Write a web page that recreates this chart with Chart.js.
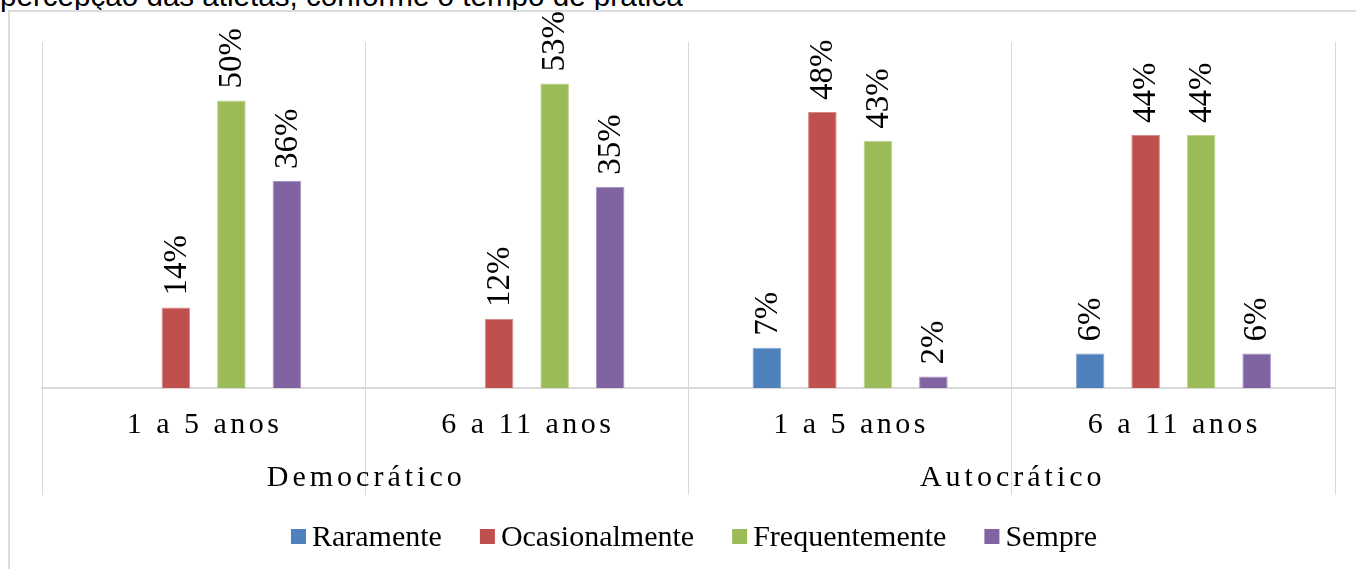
<!DOCTYPE html>
<html>
<head>
<meta charset="utf-8">
<script src="https://cdn.jsdelivr.net/npm/chart.js@4.4.1/dist/chart.umd.min.js"></script>
<style>
  html, body { margin: 0; padding: 0; background: #fff; }
  body { width: 1356px; height: 569px; position: relative; overflow: hidden; }
  #caption { position: absolute; left: 0; top: -19px; font-family: "Liberation Sans", Arial, sans-serif; font-size: 29.6px; line-height: 30px; color: #000; white-space: nowrap; z-index: 1; }
  #frame { position: absolute; left: 8px; top: 10px; right: 0; bottom: 0; border-top: 2px solid #dcdcdc; border-left: 2px solid #dcdcdc; background: #fff; z-index: 2; }
  #wrap { position: absolute; left: 0; top: 0; width: 1356px; height: 569px; z-index: 3; }
</style>
</head>
<body>
<div id="caption">percepção das atletas, conforme o tempo de prática</div>
<div id="frame"></div>
<div id="wrap"><canvas id="c" width="1356" height="569"></canvas></div>
<script>
// ---- data ----
const categories = ["1 a 5 anos", "6 a 11 anos", "1 a 5 anos", "6 a 11 anos"];
const groups = ["Democrático", "Autocrático"];
const seriesNames = ["Raramente", "Ocasionalmente", "Frequentemente", "Sempre"];
const raramente = [null, null, 7, 6];
const ocasionalmente = [14, 12, 48, 44];
const frequentemente = [50, 53, 43, 44];
const sempre = [36, 35, 2, 6];
const seriesColors = ["#4F81BD", "#C0504D", "#9BBB59", "#8064A2"];
const seriesBorders = ["#7fa3d0", "#d68a88", "#bcd38e", "#a694c2"];
const yMax = 60.2;

const seriesData = [raramente, ocasionalmente, frequentemente, sempre];
const serif = '"Liberation Serif", "Times New Roman", serif';

const labelsPlugin = {
  id: 'customText',
  afterDatasetsDraw(chart) {
    const ctx = chart.ctx;
    ctx.save();
    ctx.fillStyle = '#000';
    ctx.font = '33px ' + serif;
    ctx.textAlign = 'left';
    ctx.textBaseline = 'middle';
    chart.data.datasets.forEach((ds, di) => {
      const meta = chart.getDatasetMeta(di);
      meta.data.forEach((bar, i) => {
        const v = ds.data[i];
        if (v === null || v === undefined) return;
        ctx.save();
        ctx.translate(bar.x + 1, bar.y - 12);
        ctx.rotate(-Math.PI / 2);
        ctx.fillText(v + '%', 0, 0);
        ctx.restore();
      });
    });
    ctx.restore();
  },
  afterDraw(chart) {
    const ctx = chart.ctx;
    const xs = chart.scales.x;
    const base = chart.chartArea.bottom;
    ctx.save();
    ctx.fillStyle = '#000';
    ctx.textAlign = 'center';
    ctx.textBaseline = 'alphabetic';
    ctx.font = '30px ' + serif;
    try { ctx.letterSpacing = '3.5px'; } catch (e) {}
    categories.forEach((c, i) => {
      ctx.fillText(c, xs.getPixelForValue(i) + 1, base + 45);
    });
    try { ctx.letterSpacing = '4px'; } catch (e) {}
    groups.forEach((g, gi) => {
      const x = (xs.getPixelForValue(gi * 2) + xs.getPixelForValue(gi * 2 + 1)) / 2;
      ctx.fillText(g, x + 1, base + 98);
    });
    try { ctx.letterSpacing = '0px'; } catch (e) {}
    // legend
    ctx.font = '30px ' + serif;
    ctx.textAlign = 'left';
    const box = 15, gapBox = 6, gapItem = 38;
    const widths = seriesNames.map(n => ctx.measureText(n).width);
    let total = widths.reduce((a, w) => a + box + gapBox + w, 0) + gapItem * (seriesNames.length - 1);
    let x = 694 - total / 2;
    const ly = 546;
    seriesNames.forEach((n, i) => {
      ctx.fillStyle = seriesColors[i];
      ctx.fillRect(x, ly - 17, box, box);
      ctx.fillStyle = '#000';
      ctx.fillText(n, x + box + gapBox, ly);
      x += box + gapBox + widths[i] + gapItem;
    });
    ctx.restore();
  }
};

new Chart(document.getElementById('c'), {
  type: 'bar',
  data: {
    labels: categories,
    datasets: seriesNames.map((n, i) => ({
      label: n,
      data: seriesData[i],
      backgroundColor: seriesColors[i],
      borderColor: seriesBorders[i],
      borderWidth: 1,
      categoryPercentage: 0.687,
      barPercentage: 0.515
    }))
  },
  options: {
    responsive: false,
    animation: false,
    devicePixelRatio: 1,
    layout: { padding: { left: 42, right: 21, top: 42, bottom: 74 } },
    plugins: { legend: { display: false }, tooltip: { enabled: false } },
    scales: {
      x: {
        offset: true,
        grid: { offset: true, color: '#d9d9d9', lineWidth: 1, drawTicks: true, tickLength: 107, tickColor: '#d9d9d9' },
        border: { display: true, color: '#d9d9d9', width: 2 },
        ticks: { display: false }
      },
      y: {
        display: false,
        min: 0,
        max: yMax
      }
    }
  },
  plugins: [labelsPlugin]
});
</script>
</body>
</html>
